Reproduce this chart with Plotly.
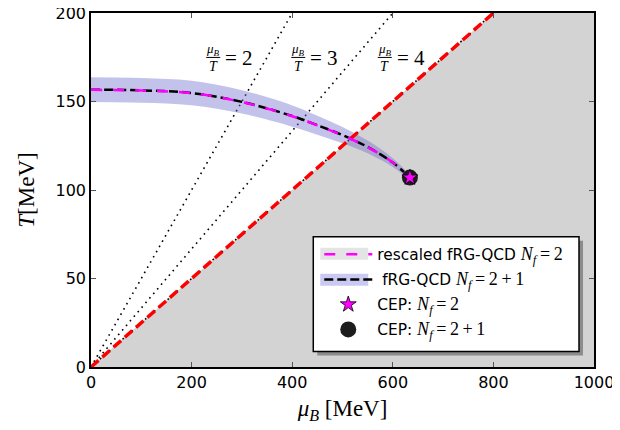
import plotly.graph_objects as go

# ---------------- data ----------------
mu_B = [0, 100, 200, 300, 400, 450, 500, 550, 600, 634]
T_nf21 = [156.7, 156.3, 154.8, 149.8, 141.8, 136.6, 131.0, 124.3, 115.5, 107.0]
T_nf21_err = [7.0, 7.0, 6.9, 6.6, 6.0, 5.4, 4.6, 3.6, 2.5, 1.5]
T_nf2 = [156.6, 156.2, 154.7, 149.7, 141.7, 136.5, 130.9, 124.2, 115.6, 107.2]
cep_mu = [634]
cep_T = [107]
ratios = [2, 3, 4]
mu_range = [0, 1000]
T_range = [0, 200]
x_ticks = [0, 200, 400, 600, 800, 1000]
y_ticks = [0, 50, 100, 150, 200]

# ---------------- layout geometry ----------------
# page is offset by the 8px body margin; work in page pixels
OFF = 8
W, H = 612, 422
PL, PR, PT, PB = 90.5, 594, 12.5, 367.5   # plot area in page pixels
L = PL - OFF
R = (OFF + W) - PR
TOP = PT - OFF
B = (OFF + H) - PB
pw, ph = PR - PL, PB - PT


def px(xp):
    return (xp - PL) / pw


def py(yp):
    return (PB - yp) / ph


SERIF = "Liberation Serif"
SANS = "DejaVu Sans"
TS = "\u2009"  # thin space

fig = go.Figure()

# gray region below mu_B/T = 4
r_max = max(ratios)
fig.add_trace(go.Scatter(
    x=[mu_range[0], T_range[1] * r_max, mu_range[1], mu_range[1]],
    y=[T_range[0], T_range[1], T_range[1], T_range[0]],
    fill="toself", fillcolor="#d3d3d3", line=dict(width=0),
    mode="lines", showlegend=False, hoverinfo="skip"))

# dotted lines mu_B/T = const
for r in ratios:
    fig.add_trace(go.Scatter(
        x=[0, T_range[1] * r], y=[0, T_range[1]], mode="lines",
        line=dict(color="black", width=1.6, dash="1.6px,4.4px"),
        showlegend=False, hoverinfo="skip"))

# band
lower = [t - e for t, e in zip(T_nf21, T_nf21_err)]
upper = [t + e for t, e in zip(T_nf21, T_nf21_err)]
fig.add_trace(go.Scatter(x=mu_B, y=lower, mode="lines", line=dict(width=0, shape="spline"),
                         showlegend=False, hoverinfo="skip"))
fig.add_trace(go.Scatter(x=mu_B, y=upper, mode="lines", line=dict(width=0, shape="spline"),
                         fill="tonexty", fillcolor="rgba(110,110,205,0.42)",
                         showlegend=False, hoverinfo="skip"))

# red dashed line mu_B/T = 4
fig.add_trace(go.Scatter(
    x=[0, T_range[1] * r_max], y=[0, T_range[1]], mode="lines",
    line=dict(color="red", width=3.5, dash="10px,5px"),
    showlegend=False, hoverinfo="skip"))


def nf(s):
    return (f"<span style=\"font-family:'{SERIF}';font-size:18px\">"
            f"<i>N<sub>f</sub></i>{TS}={TS}{s}</span>")


# fRG-QCD Nf=2+1 (black dashed)
fig.add_trace(go.Scatter(
    x=mu_B, y=T_nf21, mode="lines",
    line=dict(color="black", width=2.5, dash="9px,4px", shape="spline"),
    name=" fRG-QCD " + nf(f"2{TS}+{TS}1"), legendrank=2, legendgroup="b"))
# rescaled Nf=2 (magenta dashed)
fig.add_trace(go.Scatter(
    x=mu_B, y=T_nf2, mode="lines",
    line=dict(color="magenta", width=2.5, dash="11px,11px", shape="spline"),
    name="rescaled fRG-QCD " + nf("2"), legendrank=1, legendgroup="a"))

# CEPs
fig.add_trace(go.Scatter(
    x=cep_mu, y=cep_T, mode="markers",
    marker=dict(symbol="circle", size=16, color="#1c1c1c", line=dict(width=0)),
    name="CEP: " + nf(f"2{TS}+{TS}1"), legendrank=4, legendgroup="d"))
fig.add_trace(go.Scatter(
    x=cep_mu, y=cep_T, mode="markers",
    marker=dict(symbol="star", size=12, color="magenta", line=dict(width=0.8, color="black")),
    name="CEP: " + nf("2"), legendrank=3, legendgroup="c"))

# fraction labels
ann = []
shapes = []
label_mu = [243, 412, 584]
label_T = 174.9
for r, m in zip(ratios, label_mu):
    ann.append(dict(x=m, y=label_T, xref="x", yref="y", text="<i>μ<sub>B</sub></i>",
                    showarrow=False, yshift=8, font=dict(family=SERIF, size=13, color="black")))
    ann.append(dict(x=m, y=label_T, xref="x", yref="y", text="<i>T</i>",
                    showarrow=False, yshift=-9, font=dict(family=SERIF, size=14, color="black")))
    ann.append(dict(x=m, y=label_T, xref="x", yref="y", text=f"= {r}", xanchor="left",
                    showarrow=False, xshift=10, yshift=-1, font=dict(family=SERIF, size=21, color="black")))
    shapes.append(dict(type="line", xref="x", yref="y", xsizemode="pixel", xanchor=m,
                       x0=-7, x1=7, y0=label_T, y1=label_T, line=dict(color="black", width=1)))

# legend box + shadow + band samples
shapes.append(dict(type="rect", xref="paper", yref="paper", layer="above",
                   x0=px(317), x1=px(583), y0=py(356), y1=py(241),
                   fillcolor="#8c8c8c", line=dict(width=0)))
shapes.append(dict(type="rect", xref="paper", yref="paper", layer="above",
                   x0=px(313), x1=px(579), y0=py(352), y1=py(237),
                   fillcolor="white", line=dict(color="black", width=1.5)))
shapes.append(dict(type="rect", xref="paper", yref="paper", layer="above",
                   x0=px(320), x1=px(368), y0=py(260), y1=py(248),
                   fillcolor="#e4e4e4", line=dict(width=0)))
shapes.append(dict(type="rect", xref="paper", yref="paper", layer="above",
                   x0=px(320), x1=px(368), y0=py(286), y1=py(274),
                   fillcolor="#c9c9f2", line=dict(width=0)))

axis_common = dict(showgrid=False, zeroline=False, showline=True, linecolor="black",
                   linewidth=1.5, mirror="ticks", ticks="inside", ticklen=5, tickwidth=1,
                   tickcolor="#555555", automargin=False, ticklabeloverflow="allow",
                   tickfont=dict(family=SANS, size=16, color="black"))

fig.update_layout(
    width=W, height=H, margin=dict(l=L, r=R, t=TOP, b=B, autoexpand=False),
    paper_bgcolor="white", plot_bgcolor="white",
    xaxis=dict(range=mu_range, tickvals=x_ticks, **axis_common,
               title=dict(text="<i>μ<sub>B</sub></i> [MeV]", standoff=9,
                          font=dict(family=SERIF, size=23, color="black"))),
    yaxis=dict(range=T_range, tickvals=y_ticks, **axis_common,
               title=dict(text="<i>T</i>[MeV]", standoff=14,
                          font=dict(family=SERIF, size=23, color="black"))),
    legend=dict(x=px(319), y=py(238), xanchor="left", yanchor="top",
                bgcolor="rgba(0,0,0,0)", borderwidth=0, itemwidth=48,
                traceorder="grouped", tracegroupgap=2,
                font=dict(family=SANS, size=15.4, color="black")),
    annotations=ann, shapes=shapes,
)

fig.write_html("out.html")
